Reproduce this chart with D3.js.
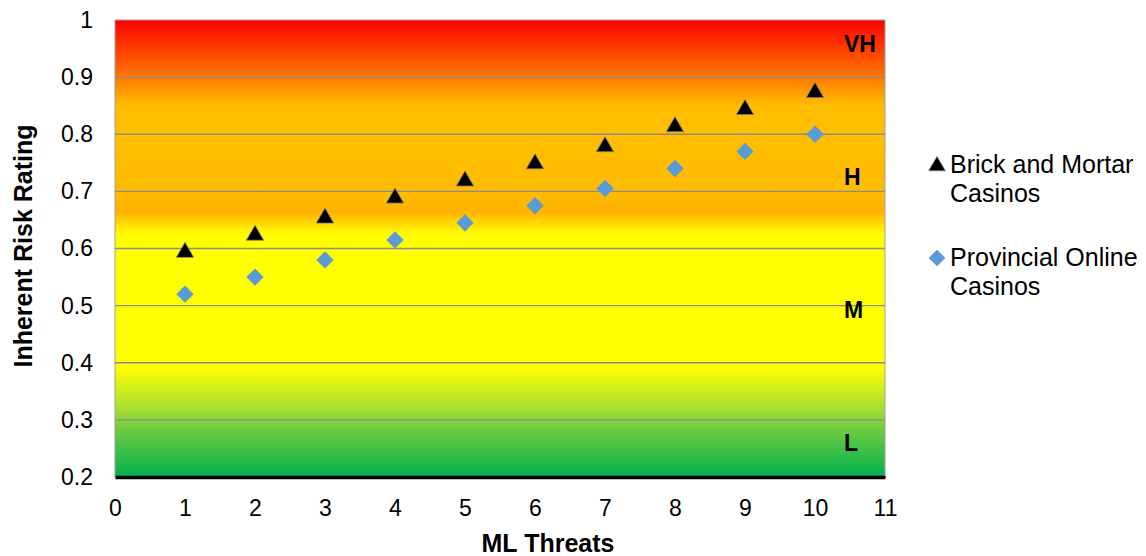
<!DOCTYPE html>
<html>
<head>
<meta charset="utf-8">
<script src="https://cdn.jsdelivr.net/npm/d3@7"></script>
<style>
  body { margin: 0; background: #fff; }
  text { font-family: "Liberation Sans", Arial, sans-serif; }
</style>
</head>
<body>
<div id="chart"></div>
<script>
const threats = [1, 2, 3, 4, 5, 6, 7, 8, 9, 10];
const brickMortar = [0.595, 0.625, 0.655, 0.69, 0.72, 0.75, 0.78, 0.815, 0.845, 0.875];
const provincialOnline = [0.52, 0.55, 0.58, 0.615, 0.645, 0.675, 0.705, 0.74, 0.77, 0.80];
const xTicks = [0, 1, 2, 3, 4, 5, 6, 7, 8, 9, 10, 11];
const yTicks = [0.2, 0.3, 0.4, 0.5, 0.6, 0.7, 0.8, 0.9, 1];
const bandLabels = ['VH', 'H', 'M', 'L'];
const bandValues = [0.958, 0.725, 0.492, 0.26];
const seriesNames = [['Brick and Mortar', 'Casinos'], ['Provincial Online', 'Casinos']];

const width = 1146, height = 556;
const margin = { top: 20, right: 261, bottom: 79, left: 115 };
const innerW = width - margin.left - margin.right;
const innerH = height - margin.top - margin.bottom;

const svg = d3.select('#chart').append('svg')
  .attr('width', width).attr('height', height);

// background gradient
const grad = svg.append('defs').append('linearGradient')
  .attr('id', 'risk').attr('x1', 0).attr('y1', 0).attr('x2', 0).attr('y2', 1);
[
  [0, '#ff0000'], [0.125, '#ff7800'], [0.19, '#ffbf00'], [0.38, '#ffbb00'],
  [0.42, '#ffb200'], [0.47, '#ffff00'], [0.76, '#ffff00'], [0.85, '#a8de32'],
  [0.9, '#6acb40'], [1, '#00b04f']
].forEach(([o, c]) => grad.append('stop').attr('offset', o).attr('stop-color', c));

const g = svg.append('g').attr('transform', `translate(${margin.left},${margin.top})`);

const x = d3.scaleLinear().domain([0, 11]).range([0, innerW]);
const y = d3.scaleLinear().domain([0.2, 1]).range([innerH, 0]);

g.append('rect').attr('width', innerW).attr('height', innerH)
  .attr('fill', 'url(#risk)').attr('stroke', '#a0a0a0').attr('stroke-width', 1);

// gridlines
g.append('g').selectAll('line')
  .data(yTicks.filter(d => d > 0.2 && d < 1))
  .enter().append('line')
  .attr('x1', 0).attr('x2', innerW)
  .attr('y1', d => y(d)).attr('y2', d => y(d))
  .attr('stroke', '#8c8c8c').attr('stroke-width', 1.3);

// x axis
const xAxis = g.append('g').attr('transform', `translate(0,${innerH})`)
  .call(d3.axisBottom(x).tickValues(xTicks).tickSize(0).tickPadding(23).tickFormat(d3.format('d')));
xAxis.select('.domain').attr('stroke', '#000').attr('stroke-width', 3.5);
xAxis.selectAll('text').attr('font-size', 23).attr('fill', '#000');

// y axis
const yAxis = g.append('g')
  .call(d3.axisLeft(y).tickValues(yTicks).tickSize(0).tickPadding(22).tickFormat(d => d === 1 ? '1' : d3.format('.1f')(d)));
yAxis.select('.domain').remove();
yAxis.selectAll('text').attr('font-size', 23).attr('fill', '#000');

// band labels
g.append('g').selectAll('text').data(bandLabels).enter().append('text')
  .attr('x', innerW - 41).attr('y', (d, i) => y(bandValues[i]))
  .attr('dy', '0.36em').attr('font-size', 23).attr('font-weight', 'bold')
  .text(d => d);

const tri = d3.symbol().type(d3.symbolTriangle).size(130);
const dia = d3.symbol().type(d3.symbolSquare).size(150);

g.append('g').selectAll('path').data(brickMortar).enter().append('path')
  .attr('d', tri)
  .attr('transform', (d, i) => `translate(${x(threats[i])},${y(d) + 1})`)
  .attr('fill', '#000').attr('stroke', '#7f7f7f').attr('stroke-width', 0.8);

g.append('g').selectAll('path').data(provincialOnline).enter().append('path')
  .attr('d', dia)
  .attr('transform', (d, i) => `translate(${x(threats[i])},${y(d)}) rotate(45)`)
  .attr('fill', '#5b9bd5');

// axis titles
svg.append('text').attr('x', 548).attr('y', 552)
  .attr('text-anchor', 'middle').attr('font-size', 25).attr('font-weight', 'bold')
  .text('ML Threats');
svg.append('text').attr('transform', `translate(32,246) rotate(-90)`)
  .attr('text-anchor', 'middle').attr('font-size', 25).attr('font-weight', 'bold')
  .text('Inherent Risk Rating');

// legend
const legend = svg.append('g').attr('transform', 'translate(937,0)');
const legendY = [165, 258];
const legendShapes = [
  s => s.attr('d', d3.symbol().type(d3.symbolTriangle).size(120)).attr('fill', '#000').attr('stroke', '#7f7f7f').attr('stroke-width', 0.8),
  s => s.attr('d', d3.symbol().type(d3.symbolSquare).size(140)).attr('fill', '#5b9bd5').attr('transform', `translate(0,${legendY[1]}) rotate(45)`)
];
seriesNames.forEach((lines, i) => {
  const p = legend.append('path').attr('transform', `translate(0,${legendY[i] + 1})`);
  legendShapes[i](p);
  const t = legend.append('text').attr('y', legendY[i] + 8)
    .attr('font-size', 25).attr('fill', '#000');
  lines.forEach((l, j) => t.append('tspan').attr('x', 13).attr('dy', j === 0 ? 0 : 29).text(l));
});
</script>
</body>
</html>
